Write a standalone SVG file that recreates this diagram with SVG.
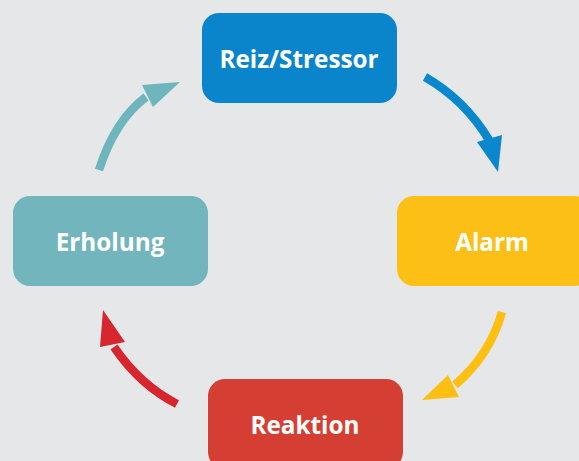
<svg xmlns="http://www.w3.org/2000/svg" width="579" height="461" viewBox="0 0 579 461">
<style>
.lbl{font-family:"Open Sans","Liberation Sans",sans-serif;font-weight:bold;font-size:24.3px;fill:#fff;text-anchor:middle;font-variant-ligatures:none}
.sh{fill:none;stroke-width:8.5}
</style>
<rect width="579" height="461" fill="#E6E7E9"/>
<g id="connectors">
<path class="sh" stroke="#0A87CD" d="M425,77 Q465,100 489,140"/>
<polygon fill="#0A87CD" points="477,142 502,135 498,172"/>
<path class="sh" stroke="#FCBF12" d="M502,312 Q490,355 455,385"/>
<polygon fill="#FCBF12" points="448,375 459,397 422,400"/>
<path class="sh" stroke="#D6262E" d="M177,404 Q140,385 114,347"/>
<polygon fill="#D6262E" points="100,347 125,342 103,310"/>
<path class="sh" stroke="#6EB5BD" d="M99,170 Q115,120 146,97"/>
<polygon fill="#6EB5BD" points="142,85 153,107 180,82"/>
</g>
<g id="reiz">
<rect x="202" y="13" width="195" height="90" rx="17" fill="#0A85CB"/>
<text class="lbl" x="299" y="68">Reiz/Stressor</text>
</g>
<g id="alarm">
<rect x="397" y="196" width="195" height="90" rx="17" fill="#FBBF15"/>
<text class="lbl" x="492" y="251">Alarm</text>
</g>
<g id="reaktion">
<rect x="208" y="379" width="195" height="90" rx="17" fill="#D53F33"/>
<text class="lbl" x="305" y="434">Reaktion</text>
</g>
<g id="erholung">
<rect x="13" y="196" width="195" height="90" rx="17" fill="#72B5BD"/>
<text class="lbl" x="110" y="251">Erholung</text>
</g>
</svg>
